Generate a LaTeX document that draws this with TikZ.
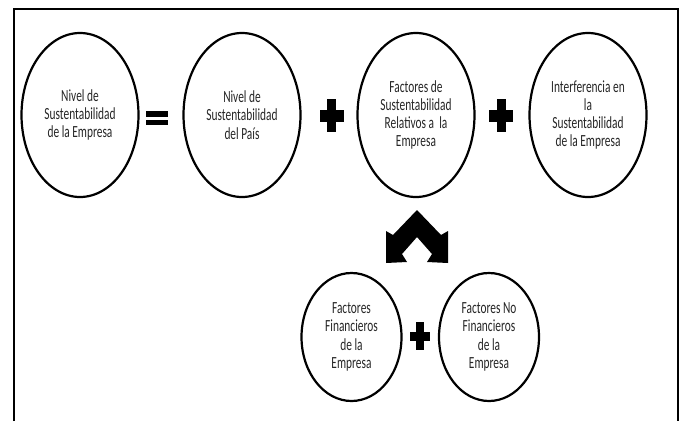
\documentclass[tikz,border=0pt]{standalone}
\usepackage{fontspec}
\setmainfont[FakeStretch=0.67]{Carlito}
\usetikzlibrary{shapes.geometric}
\tikzset{
  bubble/.style={ellipse, draw=black, line width=2.2pt, inner sep=0pt, align=center,
    text=black!85, font=\fontsize{17}{18.3}\selectfont},
  bigbubble/.style={bubble, minimum width=117pt, minimum height=164pt},
  smallbubble/.style={bubble, minimum width=100pt, minimum height=128pt},
  opfill/.style={fill=black}
}
\begin{document}
\begin{tikzpicture}[x=1pt,y=-1pt]
    \useasboundingbox (0,0) rectangle (684,421);
    \fill[white] (0,0) rectangle (684,421);
    \draw[line width=2pt] (14,421) -- (14,9) -- (678,9) -- (678,421);
    % top row
    \node[bigbubble] (nivelEmp) at (80,115) {Nivel de\\Sustentabilidad\\de la Empresa};
    \node[bigbubble] (nivelPais) at (242,115) {Nivel de\\Sustentabilidad\\del País};
    \node[bigbubble] (factRel) at (416,115) {Factores de\\Sustentabilidad\\Relativos a~ la\\Empresa};
    \node[bigbubble] (interf) at (588,115) {Interferencia en\\la\\Sustentabilidad\\de la Empresa};
    % operators
    \fill[opfill] (146,111) rectangle (168,116.5);
    \fill[opfill] (146,119.5) rectangle (168,125);
    \fill[opfill] (327,99) rectangle (336,132);
    \fill[opfill] (319.5,110) rectangle (343.5,122);
    \fill[opfill] (496.5,99) rectangle (505.5,132);
    \fill[opfill] (489,110) rectangle (513,122);
    % double arrow
    \fill[opfill] (417,210) -- (441,235) -- (448,231) -- (448,263) -- (427,262) -- (432,254)
        -- (417,237) -- (402,254) -- (407,262) -- (386,263) -- (386,231) -- (393,235) -- cycle;
    % bottom row
    \node[smallbubble] (factFin) at (351.5,337) {Factores\\Financieros\\de la\\Empresa};
    \node[smallbubble] (factNoFin) at (489,337) {Factores No\\Financieros\\de la\\Empresa};
    \fill[opfill] (416,322) rectangle (423.5,350);
    \fill[opfill] (410,331.5) rectangle (430,340.5);
\end{tikzpicture}
\end{document}
